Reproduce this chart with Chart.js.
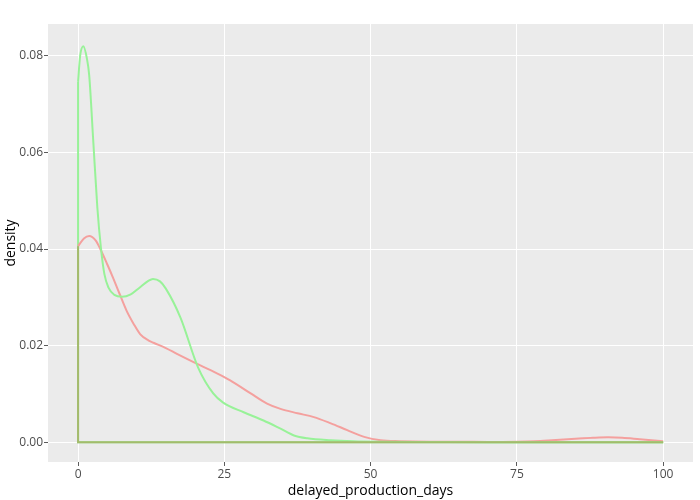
<!DOCTYPE html>
<html lang="en">
    <head>
        <meta charset="UTF-8" />
        <title>delayed_production_days density</title>
        <script src="https://cdn.jsdelivr.net/npm/chart.js"></script>
        <style>
            html, body { margin: 0; padding: 0; background: #ffffff; }
            #wrap { width: 700px; height: 500px; }
        </style>
    </head>
    <body>
        <div id="wrap"><canvas id="myChart"></canvas></div>

        <script>
            // density curve of the green group
            const greenX = [0, 0.35, 0.9, 1.5, 1.9, 2.6, 3.3, 3.9, 4.5, 5.2, 6.2, 7.5, 9, 10.5, 12, 12.8, 14, 15, 17.5, 20.5, 23.1, 24.8, 28.3, 31.7, 34.6, 36.9, 39.2, 43.2, 47, 52, 60, 70, 80, 90, 100];
            const greenY = [0.0746, 0.08, 0.082, 0.0795, 0.076, 0.0623, 0.0485, 0.0403, 0.0348, 0.032, 0.0305, 0.0301, 0.0306, 0.032, 0.0334, 0.0338, 0.0333, 0.0318, 0.0258, 0.0155, 0.0101, 0.0082, 0.0062, 0.0045, 0.0028, 0.0014, 0.0008, 0.0004, 0.0002, 0.0001, 0.00005, 0, 0, 0, 0];

            // density curve of the red group
            const redX = [0, 1, 1.9, 3, 3.8, 5, 6, 7, 8.3, 9.5, 10.6, 12, 12.9, 15, 16.9, 20.9, 24, 26, 29.5, 32.3, 34.6, 37.5, 40.3, 43.2, 46, 48.9, 51.7, 55, 60, 65, 70, 75, 78, 81, 85, 88, 90.6, 93, 96, 100];
            const redY = [0.0406, 0.0422, 0.0427, 0.0418, 0.04, 0.0368, 0.034, 0.031, 0.0272, 0.0245, 0.0224, 0.0211, 0.0206, 0.0195, 0.0183, 0.0159, 0.0141, 0.0128, 0.0101, 0.008, 0.0069, 0.006, 0.0052, 0.0039, 0.0025, 0.0011, 0.0004, 0.0002, 0.0001, 0.0001, 0.00005, 0.0001, 0.0002, 0.0004, 0.0007, 0.0009, 0.001, 0.0009, 0.0006, 0.0002];

            const xTicks = [0, 25, 50, 75, 100];
            const yTicks = [0, 0.02, 0.04, 0.06, 0.08];
            const xMin = 0, xMax = 100;

            const toPoints = (xs, ys) => xs.map((x, i) => ({ x: x, y: ys[i] }));

            // closed outline: left edge down to zero, then along the baseline
            const greenEdge = [{ x: xMin, y: greenY[0] }, { x: xMin, y: 0 }, { x: xMax, y: 0 }];
            const sharedEdge = [{ x: xMin, y: redY[0] }, { x: xMin, y: 0 }, { x: xMax, y: 0 }];

            const green = "rgba(152,242,152,1)";
            const red = "rgba(244,160,158,1)";
            const olive = "rgba(164,186,108,1)";

            const tickFont = { family: "'Open Sans', sans-serif", size: 12 };
            const titleFont = { family: "'Open Sans', sans-serif", size: 14 };

            const panelBg = {
                id: "panelBg",
                beforeDraw(chart) {
                    const { ctx, chartArea: a } = chart;
                    ctx.save();
                    ctx.fillStyle = "#ebebeb";
                    ctx.fillRect(a.left, a.top, a.right - a.left, a.bottom - a.top);
                    ctx.restore();
                },
            };

            const line = (data, color, order, smooth) => ({
                data: data,
                borderColor: color,
                borderWidth: 2,
                pointRadius: 0,
                fill: false,
                order: order,
                cubicInterpolationMode: smooth ? "monotone" : "default",
                tension: 0,
            });

            new Chart(document.getElementById("myChart"), {
                type: "line",
                data: {
                    datasets: [
                        line(toPoints(greenX, greenY), green, 1, true),
                        line(toPoints(redX, redY), red, 2, true),
                        line(greenEdge, green, 3, false),
                        line(sharedEdge, olive, 0, false),
                    ],
                },
                options: {
                    responsive: true,
                    maintainAspectRatio: false,
                    animation: false,
                    layout: { padding: { top: 24, right: 7, left: 0, bottom: 0 } },
                    plugins: {
                        legend: { display: false },
                        tooltip: { enabled: false },
                    },
                    scales: {
                        x: {
                            type: "linear",
                            min: -5.14,
                            max: 105.1,
                            afterBuildTicks: (s) => { s.ticks = xTicks.map((v) => ({ value: v })); },
                            afterFit: (s) => { s.height = 38; },
                            border: { display: false },
                            grid: { color: "#ffffff", lineWidth: 1, tickLength: 4, tickColor: "rgba(51,51,51,0.8)" },
                            ticks: { font: tickFont, color: "rgba(77,77,77,1)", padding: 1, maxRotation: 0 },
                            title: { display: true, text: "delayed_production_days", font: titleFont, color: "#000000", padding: { top: 0, bottom: 1 } },
                        },
                        y: {
                            type: "linear",
                            min: -0.0041,
                            max: 0.0866,
                            afterBuildTicks: (s) => { s.ticks = yTicks.map((v) => ({ value: v })); },
                            afterFit: (s) => { s.width = 48; },
                            border: { display: false },
                            grid: { color: "#ffffff", lineWidth: 1, tickLength: 4, tickColor: "rgba(51,51,51,0.8)" },
                            ticks: { font: tickFont, color: "rgba(77,77,77,1)", padding: 1, callback: (v) => v.toFixed(2) },
                            title: { display: true, text: "density", font: titleFont, color: "#000000", padding: { top: 3, bottom: 0 } },
                        },
                    },
                },
                plugins: [panelBg],
            });
        </script>
    </body>
</html>
